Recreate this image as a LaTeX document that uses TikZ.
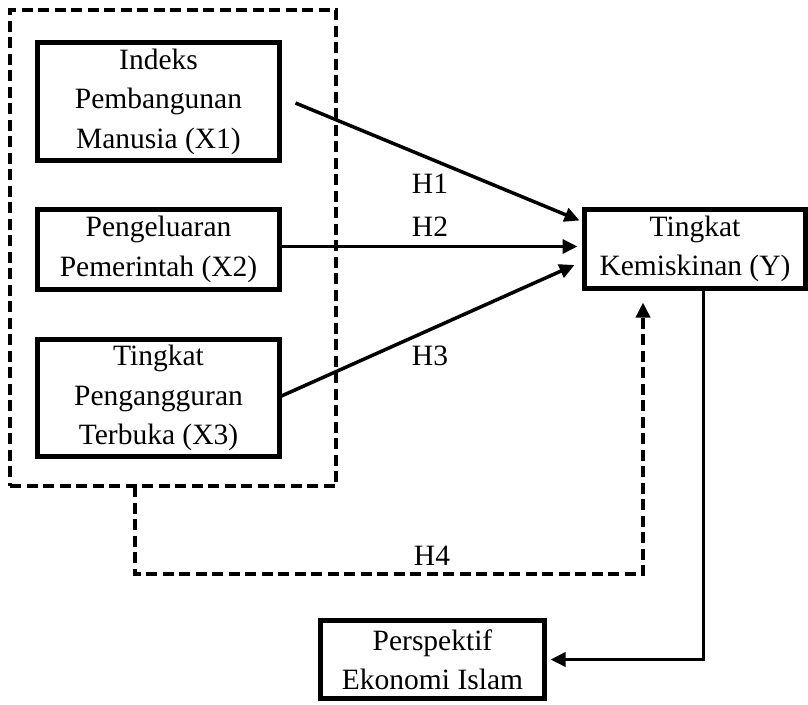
\documentclass[tikz,border=0pt]{standalone}
\usepackage{fontspec}
\setmainfont{Liberation Serif}
\usetikzlibrary{arrows.meta}
\begin{document}
\begin{tikzpicture}[x=1pt,y=-1pt,
  box/.style={draw=black, line width=5.5pt, inner sep=0pt, outer sep=0pt, align=center,
    font=\fontsize{29.5}{39.5}\selectfont},
  grpbox/.style={draw=black, line width=3.5pt, dash pattern=on 11pt off 5.5pt, inner sep=0pt, outer sep=0pt},
  arr/.style={line width=3.5pt, -{Triangle[length=15pt,width=14pt]}},
  dasharr/.style={line width=3.5pt, dash pattern=on 11pt off 5.5pt, -{Triangle[length=15pt,width=14pt]}},
  lbl/.style={font=\fontsize{29.5}{39.5}\selectfont, inner sep=0pt}
]
\useasboundingbox (0,0) rectangle (808,704);
\node[grpbox, minimum width=326pt, minimum height=476pt] (grp) at (173,248) {};
\node[box, minimum width=242pt, minimum height=118pt] (X1) at (158.5,101.5) {Indeks\\Pembangunan\\Manusia (X1)};
\node[box, minimum width=242pt, minimum height=80pt] (X2) at (158.5,249.5) {Pengeluaran\\Pemerintah (X2)};
\node[box, minimum width=242pt, minimum height=117pt] (X3) at (158.5,398) {Tingkat\\Pengangguran\\Terbuka (X3)};
\node[box, minimum width=221pt, minimum height=79pt] (Y) at (695,249) {Tingkat\\Kemiskinan (Y)};
\node[box, minimum width=224pt, minimum height=78pt] (P) at (432.5,659.5) {Perspektif\\Ekonomi Islam};
% connectors
\draw[arr] ([xshift=16pt,yshift=-1.5pt]X1.east) -- ([xshift=-5pt,yshift=-11pt]Y.north west);
\draw[arr] ([yshift=3pt]X2.east) -- ([yshift=3pt,xshift=-7pt]X2.east -| Y.west);
\draw[arr] ([xshift=2pt,yshift=2pt]X3.east) -- ([xshift=-10pt,yshift=-16pt]Y.west);
\coordinate (h4s) at ([xshift=-38pt]grp.south);
\coordinate (h4e) at ([xshift=-52pt,yshift=-14pt]Y.south);
\draw[dasharr] (h4s) -- ++(0,88) -| (h4e);
\draw[arr] ([xshift=8.5pt]Y.south) |- ([xshift=6pt]P.east);
% labels
\node[lbl] (h1) at (430,184) {H1};
\node[lbl] (h2) at (430,227) {H2};
\node[lbl] (h3) at (430,356) {H3};
\node[lbl] (h4) at (432,556) {H4};
\end{tikzpicture}
\end{document}
